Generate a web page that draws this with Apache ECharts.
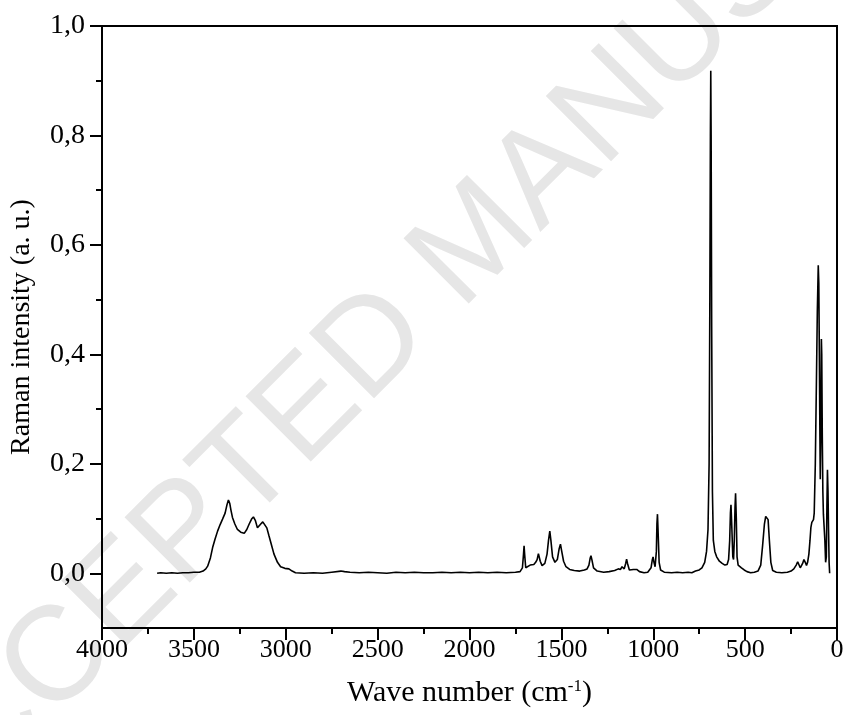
<!DOCTYPE html>
<html>
<head>
<meta charset="utf-8">
<script src="https://cdn.jsdelivr.net/npm/echarts@6/dist/echarts.min.js"></script>
<style>
html,body{margin:0;padding:0;background:#fff;}
#chart{width:847px;height:715px;}
</style>
</head>
<body>
<div id="chart"></div>
<script>
// Raman spectrum (wave number in cm-1, intensity in a.u.)
const wavenumber = [
3700,3680,3650,3620,3590,3560,3530,3500,3470,3450,3435,3425,3410,3398,3385,3371,3357,3344,3330,3320,
3312,3305,3298,3290,3277,3263,3245,3226,3212,3199,3186,3176,3165,3154,3145,3136,3125,3115,3103,3091,
3078,3064,3045,3028,3005,2983,2965,2947,2900,2850,2800,2750,2700,2680,2650,2600,2550,2500,2450,2400,
2350,2300,2250,2200,2150,2100,2050,2000,1950,1900,1850,1800,1750,1725,1712,1706,1703,1700,1694,1685,
1670,1660,1650,1640,1632,1625,1620,1615,1605,1590,1578,1570,1563,1557,1548,1535,1522,1512,1505,1498,
1488,1475,1455,1430,1400,1375,1360,1350,1343,1339,1334,1325,1305,1270,1240,1210,1190,1185,1178,1170,
1165,1158,1150,1145,1140,1130,1120,1108,1100,1090,1075,1050,1030,1012,1005,1001,996,990,983,980,
977,974,968,960,940,900,870,840,810,790,770,750,735,720,710,702,696,692,689,687,
685,682,678,673,665,655,640,625,610,598,590,584,580,577,573,567,563,559,555,552,
548,544,538,530,520,505,490,470,450,430,415,405,395,388,381,375,368,360,350,330,
300,270,250,235,222,214,208,200,193,187,180,175,170,166,160,153,147,142,137,133,
128,124,118,112,107,102,99,96,93,91,88,85,83,80,77,74,70,66,62,58,
55,52,49,46,43,40
];
const intensity = [
0.000,0.001,0.000,0.001,0.000,0.001,0.001,0.002,0.002,0.004,0.008,0.013,0.028,0.047,0.062,0.077,0.089,0.099,0.110,0.125,
0.134,0.128,0.115,0.102,0.090,0.080,0.075,0.073,0.080,0.090,0.099,0.103,0.096,0.083,0.085,0.090,0.094,0.094,0.083,0.068,
0.052,0.035,0.020,0.012,0.009,0.008,0.004,0.001,0.000,0.001,0.000,0.002,0.004,0.003,0.002,0.001,0.002,0.001,0.000,0.002,
0.001,0.002,0.001,0.001,0.002,0.001,0.002,0.001,0.002,0.001,0.002,0.001,0.002,0.003,0.010,0.035,0.050,0.035,0.010,0.008,
0.015,0.018,0.016,0.020,0.025,0.036,0.038,0.022,0.014,0.018,0.035,0.060,0.077,0.060,0.030,0.020,0.025,0.045,0.053,0.040,
0.022,0.012,0.007,0.005,0.004,0.006,0.008,0.015,0.028,0.032,0.025,0.010,0.004,0.002,0.003,0.005,0.008,0.010,0.007,0.012,
0.013,0.008,0.018,0.026,0.018,0.006,0.004,0.007,0.010,0.007,0.003,0.001,0.002,0.010,0.025,0.030,0.020,0.012,0.040,0.090,
0.108,0.080,0.020,0.006,0.002,0.001,0.002,0.001,0.002,0.001,0.004,0.006,0.010,0.020,0.040,0.080,0.200,0.500,0.800,0.918,
0.800,0.450,0.150,0.060,0.040,0.030,0.022,0.018,0.015,0.016,0.025,0.060,0.110,0.125,0.090,0.030,0.025,0.060,0.120,0.146,
0.100,0.030,0.015,0.014,0.010,0.006,0.003,0.001,0.002,0.004,0.015,0.050,0.090,0.104,0.107,0.098,0.060,0.020,0.005,0.002,
0.001,0.002,0.004,0.008,0.015,0.021,0.018,0.010,0.012,0.018,0.025,0.026,0.018,0.014,0.020,0.035,0.060,0.084,0.093,0.090,
0.098,0.110,0.200,0.350,0.480,0.563,0.530,0.400,0.250,0.172,0.250,0.428,0.400,0.250,0.150,0.108,0.105,0.060,0.020,0.030,
0.120,0.189,0.150,0.080,0.020,0.000
];
const xTicks = [0,500,1000,1500,2000,2500,3000,3500,4000];
const yMajorTicks = [0,0.2,0.4,0.6,0.8,1.0];
const yMinorTicks = [0.1,0.3,0.5,0.7,0.9];
const xTitle = 'Wave number (cm{sup|-1})';
const yTitle = 'Raman intensity (a. u.)';
const watermark = 'ACCEPTED MANUSCRIPT';

const points = wavenumber.map((w, i) => [w, intensity[i]]);
const serif = '"Liberation Serif", "Times New Roman", serif';

const chart = echarts.init(document.getElementById('chart'), null, {renderer: 'canvas'});
chart.setOption({
  animation: false,
  backgroundColor: '#fff',
  graphic: [{
    type: 'text',
    z: -10,
    silent: true,
    x: 477, y: 243,
    rotation: Math.PI / 4,
    style: {
      text: watermark,
      fill: '#e6e6e6',
      font: '134px "Liberation Sans", Arial, sans-serif',
      textAlign: 'center',
      textVerticalAlign: 'middle'
    }
  }],
  grid: {
    left: 99, right: 10, top: 26, bottom: 87,
    show: true, borderColor: '#000', borderWidth: 2, backgroundColor: 'transparent'
  },
  xAxis: {
    type: 'value',
    inverse: true,
    min: 0, max: 4000, interval: 500,
    name: xTitle,
    nameLocation: 'middle',
    nameGap: 50,
    nameTextStyle: {
      fontFamily: serif, fontSize: 30, color: '#000',
      rich: { sup: { fontFamily: serif, fontSize: 17, color: '#000', verticalAlign: 'top', padding: [0, 0, 14, 0] } }
    },
    axisLine: { show: true, onZero: false, lineStyle: { color: '#000', width: 2 } },
    axisTick: { show: true, length: 12, inside: false, lineStyle: { color: '#000', width: 2 } },
    minorTick: { show: true, splitNumber: 2, length: 6, lineStyle: { color: '#000', width: 2 } },
    splitLine: { show: false },
    axisLabel: { fontFamily: serif, fontSize: 26, color: '#000', margin: 9,
      customValues: xTicks, formatter: v => String(v) }
  },
  yAxis: [{
    type: 'value',
    min: -0.1, max: 1.0,
    position: 'left',
    name: yTitle,
    nameLocation: 'middle',
    nameGap: 66,
    nameTextStyle: { fontFamily: serif, fontSize: 28, color: '#000' },
    axisLine: { show: true, onZero: false, lineStyle: { color: '#000', width: 2 } },
    axisTick: { show: true, length: 12, inside: false, customValues: yMajorTicks, lineStyle: { color: '#000', width: 2 } },
    splitLine: { show: false },
    axisLabel: { fontFamily: serif, fontSize: 28, color: '#000', margin: 17,
      customValues: yMajorTicks, formatter: v => v.toFixed(1).replace('.', ',') }
  }, {
    type: 'value',
    position: 'left',
    min: -0.1, max: 1.0,
    axisLine: { show: false, onZero: false },
    axisTick: { show: true, length: 6, inside: false, customValues: yMinorTicks, lineStyle: { color: '#000', width: 2 } },
    axisLabel: { show: false },
    splitLine: { show: false }
  }],
  series: [{
    type: 'line',
    data: points,
    showSymbol: false,
    symbol: 'none',
    lineStyle: { color: '#000', width: 1.6 },
    clip: true
  }]
});
</script>
</body>
</html>
